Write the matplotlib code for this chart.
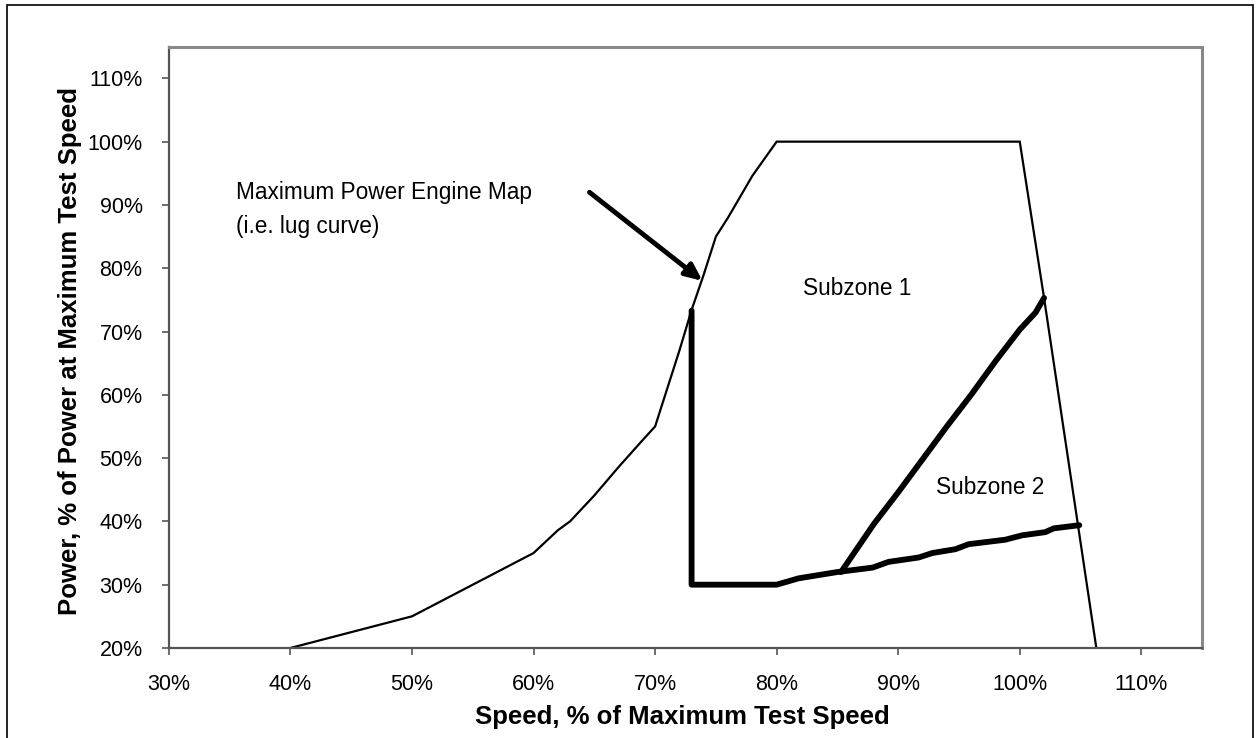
import matplotlib
matplotlib.use('Agg')
import matplotlib.pyplot as plt
from matplotlib.patches import Rectangle
from matplotlib.ticker import FuncFormatter

plt.rcParams['font.family'] = ['Liberation Sans', 'DejaVu Sans']

# lug curve (maximum power engine map), % speed vs % power
lug_x = [40, 50, 60, 62, 63, 65, 67, 69, 70, 72, 73, 74, 75, 76, 78, 80,
         85, 90, 95, 100, 102, 106.3]
lug_y = [20, 25, 35, 38.6, 40, 44.1, 48.6, 52.9, 55, 67, 73.4, 79, 85, 88, 94.6, 100,
         100, 100, 100, 100, 75.3, 20]

# subzone boundary (thick)
zone_x = [73, 73, 80, 81.8, 85, 87.9, 89.2, 91.7, 92.8, 94.7, 95.8, 98.8, 100.2, 102.1, 102.8, 104.9]
zone_y = [73.3, 30, 30, 31, 32, 32.7, 33.6, 34.3, 35, 35.6, 36.4, 37.1, 37.8, 38.3, 38.9, 39.4]

# split line between subzone 1 and 2
split_x = [85.3, 88, 90, 92, 94, 96, 98, 100, 101.3, 102]
split_y = [32, 39.6, 44.6, 49.8, 55, 60, 65.3, 70.3, 73, 75.3]

fig = plt.figure(figsize=(12.57, 7.38), dpi=100)
ax = fig.add_axes([0.1344, 0.122, 0.8219, 0.8147])

ax.plot(lug_x, lug_y, color='black', lw=1.6, solid_joinstyle='miter')
ax.plot(zone_x, zone_y, color='black', lw=4.2, solid_capstyle='round')
ax.plot(split_x, split_y, color='black', lw=4.2, solid_capstyle='round')

ax.annotate('', xy=(73.9, 78), xytext=(64.6, 92),
            arrowprops=dict(arrowstyle='-|>,head_length=1.0,head_width=0.45',
                            color='black', lw=3.5, shrinkA=0, shrinkB=0))
ax.text(35.5, 92, 'Maximum Power Engine Map', fontsize=16.3, va='center', ha='left')
ax.text(35.5, 86.6, '(i.e. lug curve)', fontsize=16.3, va='center', ha='left')
ax.text(86.6, 76.8, 'Subzone 1', fontsize=16.3, va='center', ha='center')
ax.text(97.6, 45.3, 'Subzone 2', fontsize=16.3, va='center', ha='center')

ax.set_xlim(30, 115)
ax.set_ylim(20, 115)
ax.set_xticks(range(30, 111, 10))
ax.set_yticks(range(20, 111, 10))
pct = FuncFormatter(lambda v, p: '%d%%' % v)
ax.xaxis.set_major_formatter(pct)
ax.yaxis.set_major_formatter(pct)
ax.tick_params(labelsize=15.5, length=5, width=1.2, color='#555555')
ax.tick_params(axis='x', pad=14)
ax.tick_params(axis='y', pad=14)

for s in ['left', 'bottom']:
    ax.spines[s].set_color('#555555')
    ax.spines[s].set_linewidth(1.6)
for s in ['top', 'right']:
    ax.spines[s].set_color('#888888')
    ax.spines[s].set_linewidth(2.2)

fig.text(0.5426, 0.029, 'Speed, % of Maximum Test Speed', fontsize=18.5,
         fontweight='bold', ha='center', va='center')
fig.text(0.056, 0.525, 'Power, % of Power at Maximum Test Speed', fontsize=18.5,
         fontweight='bold', ha='center', va='center', rotation=90)

fig.patches.append(Rectangle((7 / 1257, -0.05), 1246 / 1257, 1.05 - 5 / 738,
                             transform=fig.transFigure, fill=False,
                             edgecolor='black', lw=1.2))

fig.savefig('out.png', dpi=100)
